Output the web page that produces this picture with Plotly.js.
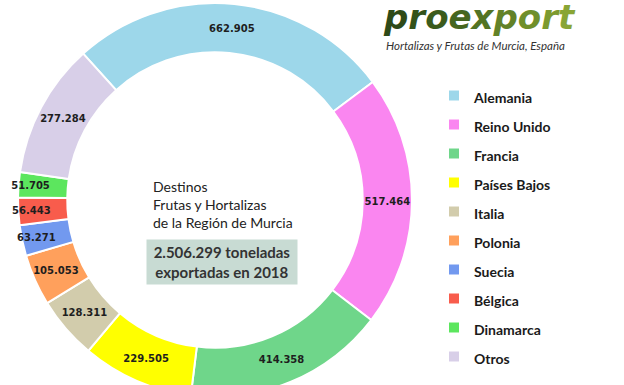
<!DOCTYPE html>
<html>
<head>
<meta charset="utf-8">
<script src="https://cdn.plot.ly/plotly-3.0.1.min.js"></script>
<style>
html,body{margin:0;padding:0;overflow:hidden;background:#fff;}
#chart{width:624px;height:400px;}
</style>
</head>
<body>
<div id="chart"></div>
<script>
const countries = ["Alemania","Reino Unido","Francia","Países Bajos","Italia","Polonia","Suecia","Bélgica","Dinamarca","Otros"];
const tonnes = [662905,517464,414358,229505,128311,105053,63271,56443,51705,277284];
const sliceColors = ["#9dd7ea","#fa86f0","#6fd68a","#ffff00","#d2ccac","#ffa05c","#7299ef","#f85c4c","#5ce65e","#d8cfe8"];
const centerTitle = "Destinos<br>Frutas y Hortalizas<br>de la Región de Murcia";
const totalText = "2.506.299 toneladas<br>exportadas en 2018";
const logoLetters = ["p","r","o","e","x","p","o","r","t"];
const logoColors = ["#2e4a18","#33521a","#3b5b1c","#46661f","#537424","#628228","#6f8f2b","#7c9a2f","#89a535"];
const logoSub = "Hortalizas y Frutas de Murcia, España";

const W = 624, H = 400;
const px = x => x / W;
const py = y => 1 - y / H;

const trace = {
  type: "pie",
  labels: countries.map(c => '<span style="font-size:14px">' + c + '</span>'),
  values: tonnes,
  sort: false,
  direction: "clockwise",
  rotation: -42,
  hole: 0.75,
  domain: {x: [px(18), px(412)], y: [3 / H, 397 / H]},
  marker: {colors: sliceColors, line: {color: "#ffffff", width: 2}},
  texttemplate: "%{value:,}",
  textposition: "inside",
  insidetextorientation: "horizontal",
  insidetextfont: {family: "DejaVu Sans", size: 10, color: "#1e1e1e", weight: "bold"},
  hoverinfo: "label+value"
};

const logoHtml = logoLetters.map((l, i) => '<span style="color:' + logoColors[i] + '">' + l + '</span>').join("");

const layout = {
  width: W, height: H,
  margin: {l: 0, r: 0, t: 0, b: 0},
  paper_bgcolor: "#ffffff",
  separators: ",.",
  uniformtext: {minsize: 10, mode: "show"},
  showlegend: true,
  legend: {
    x: px(434), xanchor: "left",
    y: py(76), yanchor: "top",
    font: {family: "Lato", size: 20, color: "#1a1a1a", weight: "bold"},
    bgcolor: "rgba(0,0,0,0)"
  },
  annotations: [
    {text: centerTitle, x: px(151), y: py(176), xref: "paper", yref: "paper",
     xanchor: "left", yanchor: "top", align: "left", showarrow: false,
     font: {family: "Lato", size: 14, color: "#222222"}},
    {text: totalText, x: px(222), y: py(262), xref: "paper", yref: "paper",
     xanchor: "center", yanchor: "middle", align: "center", showarrow: false,
     bgcolor: "#c8dbd3", borderpad: 3, width: 144,
     font: {family: "Lato", size: 15, color: "#333333", weight: "bold"}},
    {text: logoHtml,
     x: px(381), y: py(17), xref: "paper", yref: "paper",
     xanchor: "left", yanchor: "middle", showarrow: false,
     font: {family: "DejaVu Sans", size: 34, weight: "bold", style: "italic", color: "#3f5d1c"}},
    {text: logoSub, x: px(384), y: py(45), xref: "paper", yref: "paper",
     xanchor: "left", yanchor: "middle", showarrow: false,
     font: {family: "Lato", size: 11.5, style: "italic", color: "#333333"}}
  ]
};

Plotly.newPlot("chart", [trace], layout, {displayModeBar: false, staticPlot: true});
</script>
</body>
</html>
